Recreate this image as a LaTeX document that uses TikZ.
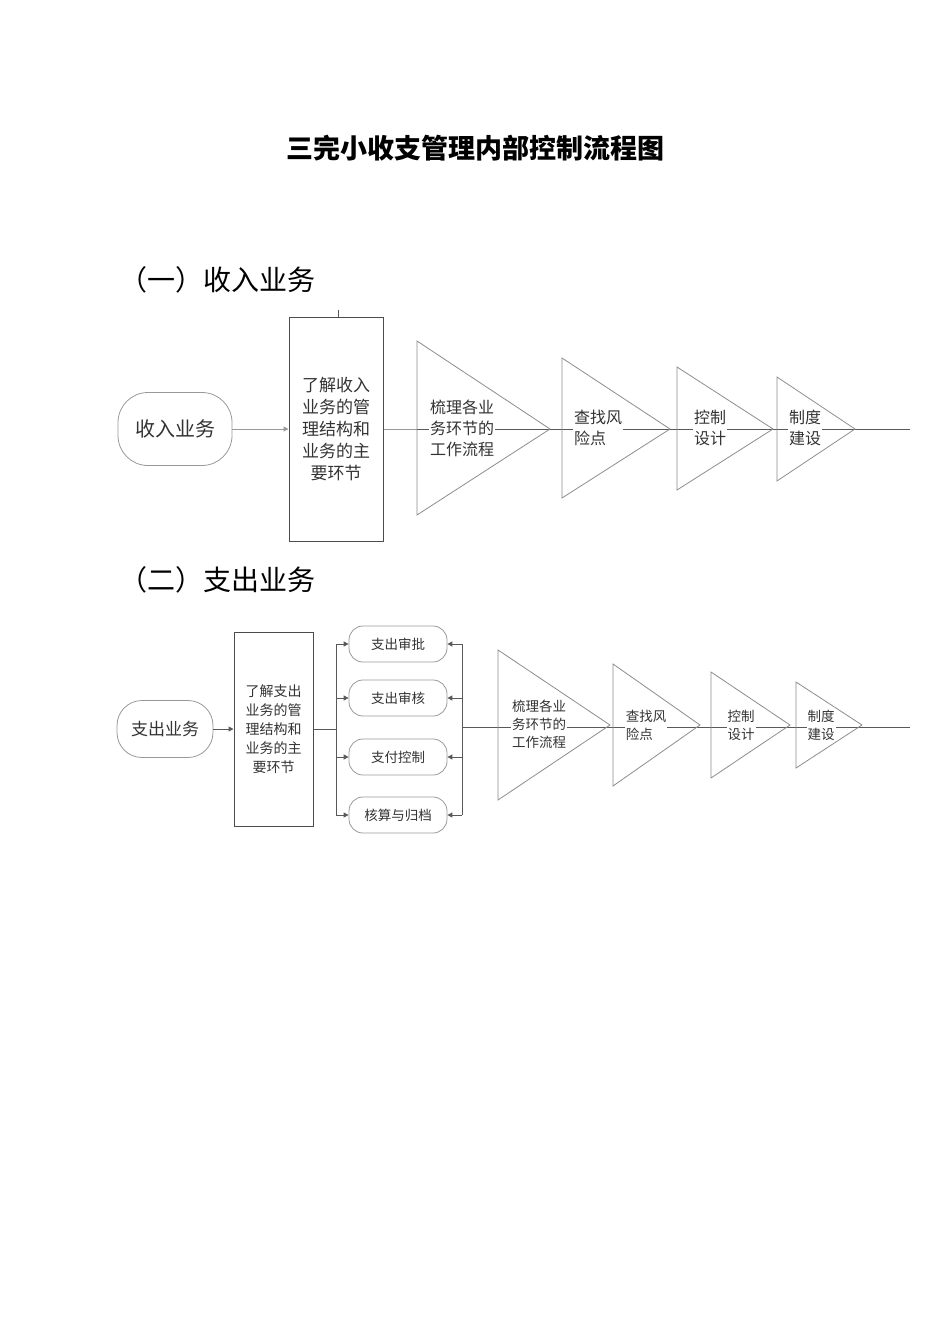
\documentclass[tikz,border=0pt]{standalone}
\usepackage{fontspec}
\setmainfont{Noto Sans CJK SC}
\usetikzlibrary{arrows.meta}
\begin{document}
\begin{tikzpicture}[x=1pt,y=-1pt,
  ln/.style={draw=black!65,line width=1pt},
  gl/.style={draw=black!40,line width=1pt},
  tri/.style={draw=black!45,line width=0.8pt},
  lbl/.style={fill=white,inner sep=1pt,align=left,text=black!80},
  pill/.style={draw=black!40,line width=0.8pt,rounded corners=14pt,text=black!80},
  arr/.style={-{Triangle[length=5pt,width=5pt]}},
  fA/.style={font=\fontsize{16}{21}\selectfont},
  fB/.style={font=\fontsize{13.5}{18}\selectfont},
]
\useasboundingbox (0,0) rectangle (950,1344);
\node[font=\fontsize{27}{30}\selectfont\bfseries] (title) at (475,148) {三完小收支管理内部控制流程图};
\node[anchor=west,font=\fontsize{28}{30}\selectfont] (h1) at (116,280) {（一）收入业务};
\node[anchor=west,font=\fontsize{28}{30}\selectfont] (h2) at (116,580) {（二）支出业务};

% ---- part 1
\node[pill,rounded corners=30pt,minimum width=114pt,minimum height=73pt,font=\fontsize{20}{24}\selectfont] (s1) at (175,429) {收入业务};
\node[draw=black!70,line width=1pt,minimum width=94pt,minimum height=224pt] (r1) at (336,429) {};
\draw[ln] (338,310) -- (r1.north -| 338,0);
\node[align=center,text=black!80,font=\fontsize{17}{22}\selectfont] (r1t) at (r1.center) {了解收入\\业务的管\\理结构和\\业务的主\\要环节};
\draw[gl,arr] (s1.east) -- (r1.west);
\coordinate (e1) at (910,429);
\draw[ln] (r1.east) -- (e1);
\draw[gl] (r1.east) -- (417,429);
\draw[tri] (417,341) -- (550,429) -- (417,515) -- cycle;
\draw[tri] (562,358) -- (670,429) -- (562,498) -- cycle;
\draw[tri] (677,367) -- (773,429) -- (677,490) -- cycle;
\draw[tri] (777,377) -- (855,429) -- (777,481) -- cycle;
\node[lbl,fA] (a1) at (462,428) {梳理各业\\务环节的\\工作流程};
\node[lbl,fA] (a2) at (598,428) {查找风\\险点};
\node[lbl,fA] (a3) at (710,428) {控制\\设计};
\node[lbl,fA] (a4) at (805,428) {制度\\建设};

% ---- part 2
\node[pill,rounded corners=25pt,minimum width=96pt,minimum height=57pt,font=\fontsize{17}{20}\selectfont] (s2) at (165,729) {支出业务};
\node[draw=black!70,line width=1pt,minimum width=79pt,minimum height=194pt] (r2) at (273.5,729) {};
\node[align=center,text=black!80,font=\fontsize{14}{19}\selectfont] (r2t) at (r2.center) {了解支出\\业务的管\\理结构和\\业务的主\\要环节};
\draw[ln,arr] (s2.east) -- (r2.west);
\node[pill,minimum width=98pt,minimum height=36pt,fB] (b1) at (398,644) {支出审批};
\node[pill,minimum width=98pt,minimum height=36pt,fB] (b2) at (398,698) {支出审核};
\node[pill,minimum width=98pt,minimum height=36pt,fB] (b3) at (398,757) {支付控制};
\node[pill,minimum width=98pt,minimum height=36pt,fB] (b4) at (398,815) {核算与归档};
\coordinate (lb) at (336,729);
\coordinate (rb) at (462,727);
\draw[ln] (r2.east |- lb) -- (lb);
\draw[ln] (336,644) -- (336,815);
\draw[ln] (462,644) -- (462,815);
\foreach \b in {b1,b2,b3,b4}{
  \draw[ln,arr] (336,0 |- \b.west) -- (\b.west);
  \draw[ln,arr] (462,0 |- \b.east) -- (\b.east);
}
\coordinate (e2) at (910,727);
\draw[ln] (rb) -- (e2);
\draw[tri] (498,650) -- (610,725) -- (498,800) -- cycle;
\draw[tri] (613,664) -- (700,725) -- (613,786) -- cycle;
\draw[tri] (711,672) -- (790,725) -- (711,778) -- cycle;
\draw[tri] (796,682) -- (862,725) -- (796,768) -- cycle;
\node[lbl,fB] (c1) at (539,724) {梳理各业\\务环节的\\工作流程};
\node[lbl,fB] (c2) at (646,725) {查找风\\险点};
\node[lbl,fB] (c3) at (741,725) {控制\\设计};
\node[lbl,fB] (c4) at (821,725) {制度\\建设};
\end{tikzpicture}
\end{document}
